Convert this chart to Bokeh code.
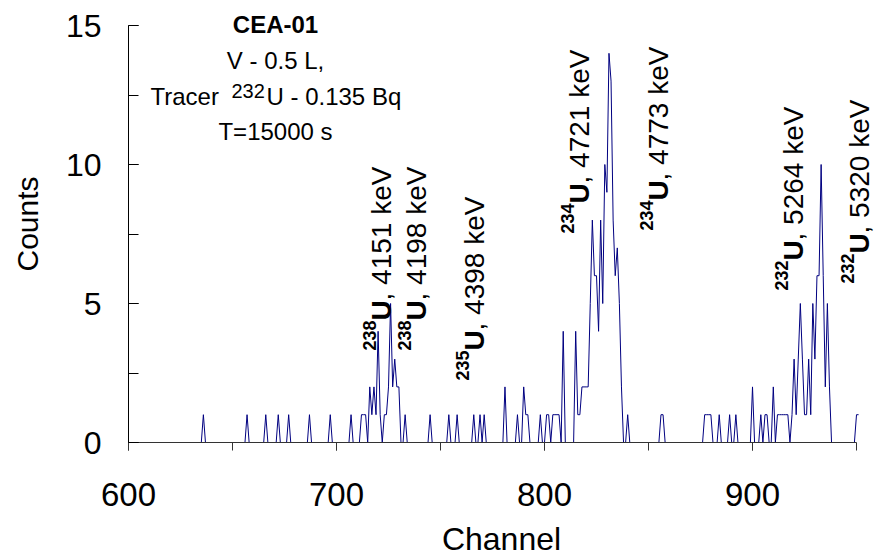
import math
import numpy as np
from bokeh.plotting import figure
from bokeh.models import Label, SingleIntervalTicker
from bokeh.embed import file_html
from bokeh.resources import INLINE

# ---------------- data ----------------
first_channel = 600
last_channel = 951
# channels with non-zero counts (all other channels are 0)
hit_channels = [636, 657, 666, 672, 677, 687, 697, 707,
                712, 713, 714, 716, 717, 718, 719, 720, 721, 723, 724, 725,
                726, 727, 728, 729, 730, 733,
                745, 754, 758, 766, 769, 771, 781, 787, 790, 791, 792, 798,
                801, 802, 804, 805, 806, 807, 809, 815, 816, 817, 818, 819,
                820, 821, 822, 823, 824, 825, 826, 827, 828, 829, 830, 831,
                832, 833, 834, 835, 836, 837, 840,
                856, 857, 877, 878, 879, 880, 884, 889, 892, 900, 904, 906,
                907, 910, 912, 913, 914, 915, 916, 917, 919, 920, 921, 922,
                923, 924, 925, 926, 927, 928, 929, 930, 931, 932, 933, 934,
                935, 936, 937, 950, 951]
hit_counts = [1, 1, 1, 1, 1, 1, 1, 1,
              1, 1, 1, 2, 1, 2, 1, 4, 1, 1, 1, 2,
              5, 2, 3, 2, 2, 1,
              1, 1, 1, 1, 1, 1, 2, 1, 2, 1, 1, 1,
              1, 1, 1, 1, 1, 1, 4, 4, 1, 1, 2, 2,
              2, 2, 5, 8, 6, 6, 4, 8, 5, 10, 9, 14,
              13, 8, 6, 7, 5, 2, 1,
              1, 1, 1, 1, 1, 1, 1, 1, 1, 2, 1, 1,
              1, 2, 1, 1, 1, 1, 1, 1, 1, 3, 1, 3,
              5, 3, 1, 1, 3, 1, 5, 3, 6, 6, 10, 6,
              2, 5, 2, 1, 1]

x_axis_bounds = (600, 950)
y_axis_bounds = (0, 15)

info_title = "CEA-01"
info_volume = "V - 0.5 L,"
info_tracer_pre = "Tracer"
info_tracer_mass = "232"
info_tracer_post = "U - 0.135 Bq"
info_time = "T=15000 s"

peak_masses = ["238", "238", "235", "234", "234", "232", "232"]
peak_energies = ["4151", "4198", "4398", "4721", "4773", "5264", "5320"]

channels = np.arange(first_channel, last_channel + 1)
counts = np.zeros(len(channels), dtype=int)
for c, v in zip(hit_channels, hit_counts):
    counts[c - first_channel] = v

# ---------------- layout ----------------
FONT = "Liberation Sans"
W, H = 874, 559
AX_L, AX_R, AX_T, AX_B = 128, 856, 25, 442      # axis extents in pixels
FRAME_T, FRAME_R = 5, 874                        # frame extends past the axes
PXC = (AX_R - AX_L) / (x_axis_bounds[1] - x_axis_bounds[0])
PYC = (AX_B - AX_T) / (y_axis_bounds[1] - y_axis_bounds[0])
SHIFT = 9   # baseline correction for labels


def dx(px):
    return x_axis_bounds[0] + (px - AX_L) / PXC


def dy(py):
    return y_axis_bounds[0] + (AX_B - py) / PYC


p = figure(width=W, height=H,
           x_range=(x_axis_bounds[0], dx(FRAME_R)),
           y_range=(y_axis_bounds[0], dy(FRAME_T)),
           output_backend="svg", toolbar_location=None,
           min_border_left=AX_L, min_border_right=W - FRAME_R,
           min_border_top=FRAME_T, min_border_bottom=H - AX_B)
p.outline_line_color = None
p.xgrid.visible = False
p.ygrid.visible = False
p.background_fill_color = "white"
p.border_fill_color = "white"

p.line(channels, counts, line_color="#000080", line_width=1)

xa = p.xaxis[0]
xa.bounds = x_axis_bounds
xa.ticker = SingleIntervalTicker(interval=100, num_minor_ticks=2)
xa.major_tick_in = 0
xa.major_tick_out = 8
xa.minor_tick_in = 0
xa.minor_tick_out = 8
xa.major_label_standoff = 32
xa.major_label_text_font = FONT
xa.major_label_text_font_size = "33px"
xa.major_label_text_color = "black"
xa.axis_line_color = "#333333"
xa.major_tick_line_color = "#333333"
xa.minor_tick_line_color = "#333333"
xa.axis_label = "Channel"
xa.axis_label_text_font = FONT
xa.axis_label_text_font_size = "32px"
xa.axis_label_text_font_style = "normal"
xa.axis_label_text_color = "black"
xa.axis_label_standoff = 12

ya = p.yaxis[0]
ya.bounds = y_axis_bounds
ya.ticker = SingleIntervalTicker(interval=5, num_minor_ticks=2)
ya.major_tick_in = 10
ya.major_tick_out = 0
ya.minor_tick_in = 10
ya.minor_tick_out = 0
ya.major_label_standoff = 27
ya.major_label_text_font = FONT
ya.major_label_text_font_size = "32px"
ya.major_label_text_color = "black"
ya.axis_line_color = "black"
ya.axis_label = "Counts"
ya.axis_label_text_font = FONT
ya.axis_label_text_font_size = "30px"
ya.axis_label_text_font_style = "normal"
ya.axis_label_text_color = "black"
ya.axis_label_standoff = 19

# info block
cx = dx(275)
for txt, base, style in [(info_title, 33, "bold"), (info_volume, 69, "normal"),
                         (info_time, 140, "normal")]:
    p.add_layout(Label(x=cx, y=dy(base - SHIFT), text=txt, text_align="center",
                       text_baseline="alphabetic", text_font=FONT,
                       text_font_size="24px", text_font_style=style,
                       text_color="black"))
p.add_layout(Label(x=dx(150), y=dy(105 - SHIFT), text=info_tracer_pre,
                   text_align="left", text_baseline="alphabetic", text_font=FONT,
                   text_font_size="24px", text_color="black"))
p.add_layout(Label(x=dx(231), y=dy(99 - SHIFT), text=info_tracer_mass,
                   text_align="left", text_baseline="alphabetic", text_font=FONT,
                   text_font_size="20px", text_color="black"))
p.add_layout(Label(x=dx(266), y=dy(105 - SHIFT), text=info_tracer_post,
                   text_align="left", text_baseline="alphabetic", text_font=FONT,
                   text_font_size="24px", text_color="black"))

# peak labels: (baseline x, start y) in pixels
peak_label_pos = [(390, 350), (425, 350), (483, 380), (588, 233),
                  (667, 230), (802, 290), (868, 283)]
for (bx, by), mass, energy in zip(peak_label_pos, peak_masses, peak_energies):
    common = dict(angle=math.pi / 2, text_align="left",
                  text_baseline="alphabetic", text_font=FONT,
                  text_color="black")
    bxs = bx - SHIFT
    p.add_layout(Label(x=dx(bxs - 12), y=dy(by), text=mass,
                       text_font_size="18px", text_font_style="bold", **common))
    p.add_layout(Label(x=dx(bxs), y=dy(by - 30), text="U",
                       text_font_size="28px", text_font_style="bold", **common))
    p.add_layout(Label(x=dx(bxs), y=dy(by - 50), text=", " + energy + " keV",
                       text_font_size="28px", text_font_style="normal", **common))

open("out.html", "w").write(file_html(p, INLINE))
